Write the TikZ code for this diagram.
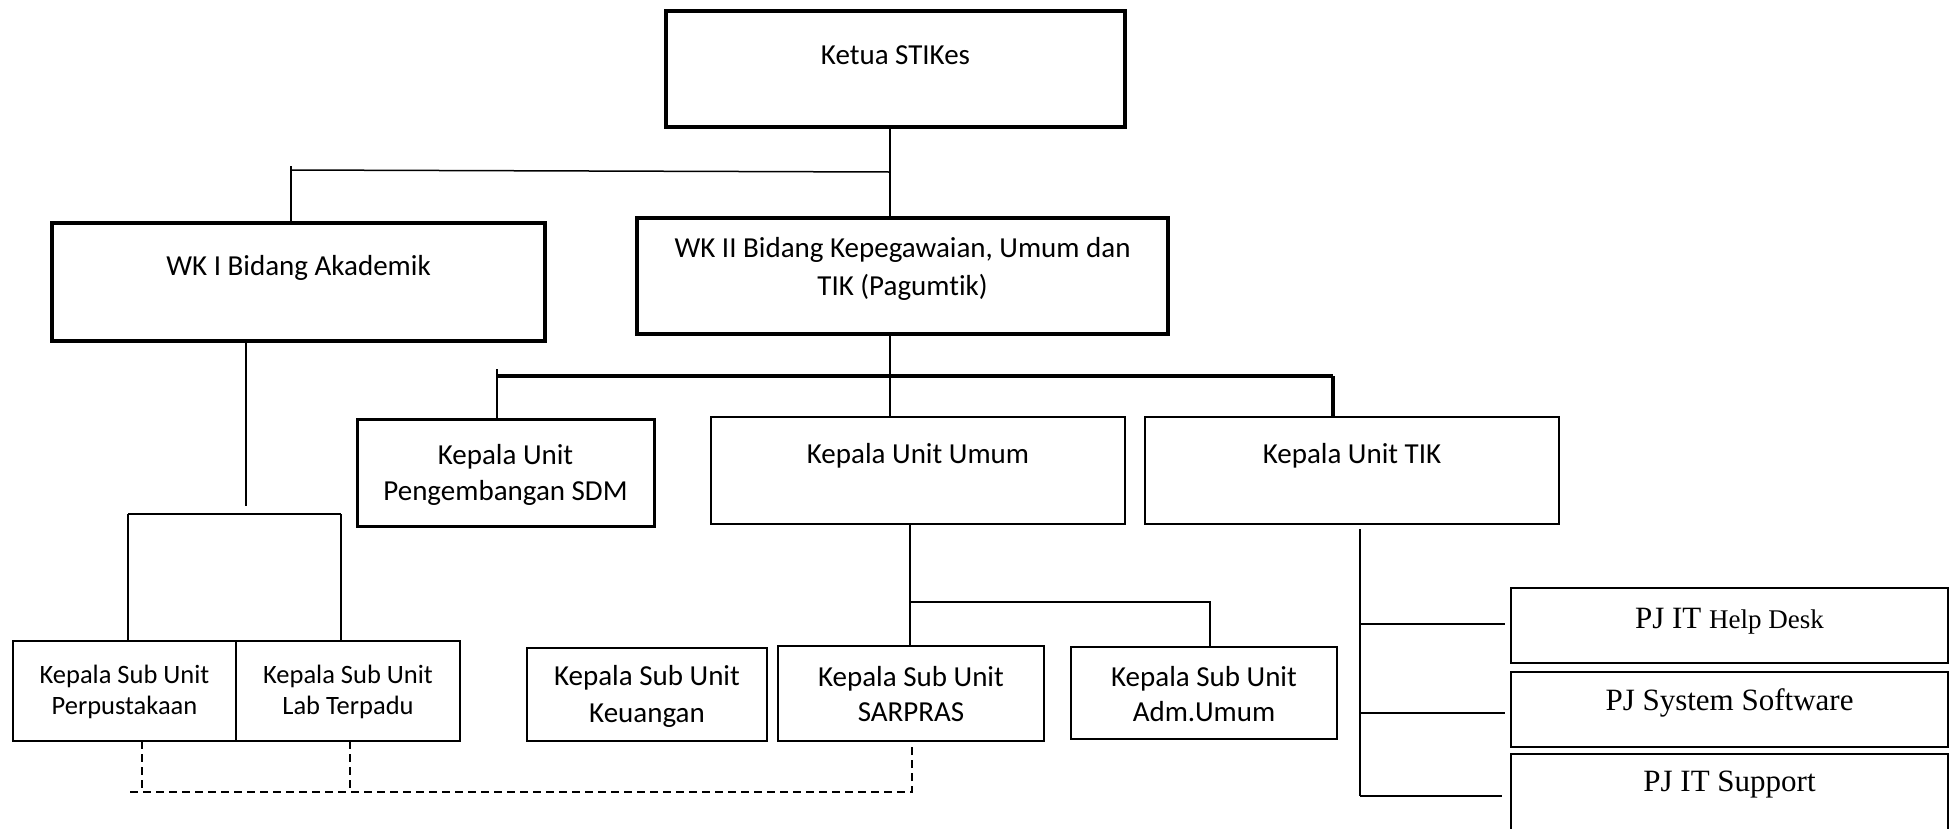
\documentclass[tikz,border=0pt]{standalone}
\usepackage{fontspec}
\setmainfont{Carlito}[Ligatures={NoCommon}]
\newfontfamily\tnr{Liberation Serif}
\begin{document}
\begin{tikzpicture}[x=1pt,y=-1pt,
  unitbox/.style={draw, line width=2.5pt, inner sep=0pt, outer sep=0pt, anchor=north west},
  headbox/.style={unitbox, line width=4pt},
  lbl/.style={inner sep=0pt, align=center, font=\fontsize{29}{36}\selectfont},
  small/.style={lbl, font=\fontsize{26.5}{31}\selectfont},
  pjlbl/.style={inner sep=0pt, align=center, font=\tnr\fontsize{31}{36}\selectfont},
  link/.style={line width=1.5pt},
  mid/.style={line width=2pt},
  bar/.style={line width=4.5pt},
  dashlink/.style={line width=2pt, dash pattern=on 8pt off 5pt}
]
\useasboundingbox (0,0) rectangle (1950,828);

% top level
\node[headbox, minimum width=459pt, minimum height=116pt] (ketua) at (666,11) {};
\node[lbl] (ketua-t) at (ketua.center |- 0,55) {Ketua STIKes};

\node[headbox, minimum width=493pt, minimum height=118pt] (wk1) at (52,223) {};
\node[lbl] (wk1-t) at (wk1.center |- 0,268) {WK I Bidang Akademik};

\node[headbox, minimum width=531pt, minimum height=116pt] (wk2) at (637,218) {};
\node[lbl, font=\fontsize{29}{38}\selectfont] (wk2-t) at (wk2.center |- 0,269) {WK II Bidang Kepegawaian, Umum dan\\TIK (Pagumtik)};

% units under WK II
\node[unitbox, line width=3pt, minimum width=297pt, minimum height=107pt] (sdm) at (357,419) {};
\node[lbl] (sdm-t) at (sdm.center |- 0,475) {Kepala Unit\\Pengembangan SDM};

\node[unitbox, minimum width=414pt, minimum height=107pt] (umum) at (711,417) {};
\node[lbl] (umum-t) at (umum.center |- 0,456) {Kepala Unit Umum};

\node[unitbox, minimum width=414pt, minimum height=107pt] (tik) at (1145,417) {};
\node[lbl] (tik-t) at (tik.center |- 0,456) {Kepala Unit TIK};

% sub units
\node[unitbox, minimum width=223pt, minimum height=100pt] (perpus) at (13,641) {};
\node[small] (perpus-t) at (perpus.center |- 0,692) {Kepala Sub Unit\\Perpustakaan};

\node[unitbox, minimum width=224pt, minimum height=100pt] (lab) at (236,641) {};
\node[small] (lab-t) at (lab.center |- 0,692) {Kepala Sub Unit\\Lab Terpadu};

\node[unitbox, minimum width=240pt, minimum height=93pt] (keu) at (527,648) {};
\node[lbl, font=\fontsize{29}{37}\selectfont] (keu-t) at (keu.center |- 0,696) {Kepala Sub Unit\\Keuangan};

\node[unitbox, minimum width=266pt, minimum height=95pt] (sarpras) at (778,646) {};
\node[lbl, font=\fontsize{29}{35}\selectfont] (sarpras-t) at (sarpras.center |- 0,694) {Kepala Sub Unit\\SARPRAS};

\node[unitbox, minimum width=266pt, minimum height=92pt] (adm) at (1071,647) {};
\node[lbl, font=\fontsize{29}{35}\selectfont] (adm-t) at (adm.center |- 0,694) {Kepala Sub Unit\\Adm.Umum};

% TIK staff
\node[unitbox, minimum width=437pt, minimum height=75pt] (pj1) at (1511,588) {};
\node[pjlbl] (pj1-t) at (pj1.center |- 0,621) {PJ IT {\fontsize{27}{32}\selectfont Help Desk}};

\node[unitbox, minimum width=437pt, minimum height=75pt] (pj2) at (1511,672) {};
\node[pjlbl] (pj2-t) at (pj2.center |- 0,703) {PJ System Software};

\node[unitbox, minimum width=437pt, minimum height=100pt] (pj3) at (1511,754) {};
\node[pjlbl] (pj3-t) at (pj3.center |- 0,785) {PJ IT Support};

% junction points
\coordinate (kx) at (890,172);
\coordinate (wx) at (291,170);
\coordinate (w0) at (291,166);
\coordinate (a1) at (246,506);
\coordinate (a2) at (128,514);
\coordinate (a3) at (341,514);
\coordinate (b0) at (497,369);
\coordinate (b1) at (497,376);
\coordinate (b2) at (1333,376);
\coordinate (u1) at (910,602);
\coordinate (u2) at (1210,602);
\coordinate (t0) at (1360,529);
\coordinate (t1) at (1360,624);
\coordinate (t2) at (1360,713);
\coordinate (t3) at (1360,796);
\coordinate (e1) at (1505,624);
\coordinate (e2) at (1505,713);
\coordinate (e3) at (1502,796);
\coordinate (d0) at (130,792);
\coordinate (d1) at (142,792);
\coordinate (d2) at (350,792);
\coordinate (d3) at (912,792);

% Ketua -> WK I, WK II
\draw[mid] (ketua.south -| kx) -- (wk2.north -| kx);
\draw[link] (kx) -- (wx);
\draw[link] (w0) -- (wk1.north -| w0);

% WK I -> sub units
\draw[link] (wk1.south -| a1) -- (a1);
\draw[link] (a2) -- (a3);
\draw[link] (a2) -- (perpus.north -| a2);
\draw[link] (a3) -- (lab.north -| a3);

% WK II -> units
\draw[mid] (wk2.south -| kx) -- (umum.north -| kx);
\draw[bar] (b1) -- (b2);
\draw[mid] (b0) -- (sdm.north -| b0);
\draw[line width=3.5pt] (b2) -- (tik.north -| b2);

% Unit Umum -> sub units
\draw[link] (umum.south -| u1) -- (sarpras.north -| u1);
\draw[link] (u1) -- (u2) -- (adm.north -| u2);

% Unit TIK -> staff
\draw[link] (t0) -- (t3);
\draw[link] (t1) -- (e1);
\draw[link] (t2) -- (e2);
\draw[link] (t3) -- (e3);

% coordination line
\draw[dashlink] (perpus.south -| d1) -- (d1);
\draw[dashlink] (lab.south -| d2) -- (d2);
\draw[dashlink] (d0) -- (d3) -- (sarpras.south -| d3);
\end{tikzpicture}
\end{document}
